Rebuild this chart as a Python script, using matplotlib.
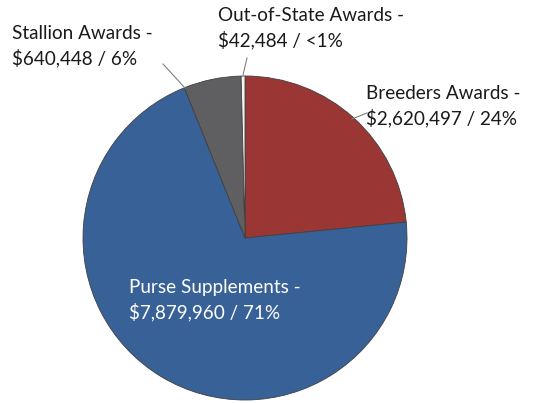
import matplotlib
matplotlib.use("Agg")
import matplotlib.pyplot as plt

categories = ["Breeders Awards", "Purse Supplements", "Stallion Awards", "Out-of-State Awards"]
amounts = [2620497, 7879960, 640448, 42484]
pct_labels = ["24%", "71%", "6%", "<1%"]
colors = ["#9a3735", "#386198", "#5f5f62", "#f4f4f4"]

W, H = 534, 403
CX, CY, R = 245, 238, 162


def px(x, y):
    # pixel (from top-left) -> data coords, pie centred at 0,0 radius 1
    return (x - CX) / R, (CY - y) / R


fig = plt.figure(figsize=(W / 100, H / 100), dpi=100)
ax = fig.add_axes([0, 0, 1, 1])

ax.pie(amounts, colors=colors, startangle=90, counterclock=False, radius=1,
       wedgeprops=dict(edgecolor="#404040", linewidth=0.6))

ax.set_xlim(-CX / R, (W - CX) / R)
ax.set_ylim((CY - H) / R, CY / R)
ax.set_aspect("equal")
ax.axis("off")

font = ["Lato", "DejaVu Sans"]
labels = [f"{c} -\n${a:,} / {p}" for c, a, p in zip(categories, amounts, pct_labels)]

# label positions (top-left, pixels) and leader lines
spots = {
    0: ((366, 85), (367, 113), (352, 119)),
    1: ((129, 279), None, None),
    2: ((12, 25), (163, 64), (185, 88)),
    3: ((218, 7), (247, 58), (243, 75)),
}
for i, ((tx, ty), p0, p1) in spots.items():
    ax.text(*px(tx, ty), labels[i], ha="left", va="top", fontsize=13.6,
            family=font, linespacing=1.42,
            color="white" if i == 1 else "#1a1a1a")
    if p0 is not None:
        x0, y0 = px(*p0)
        x1, y1 = px(*p1)
        ax.plot([x0, x1], [y0, y1], color="#808080", lw=0.8)

fig.savefig("out.png", dpi=100)
